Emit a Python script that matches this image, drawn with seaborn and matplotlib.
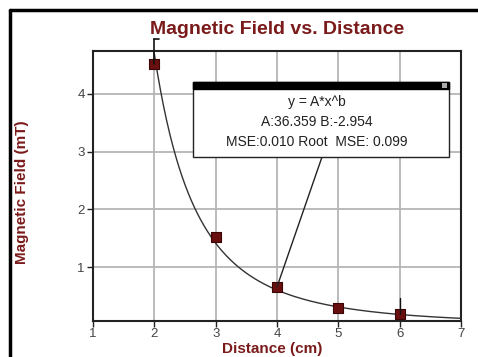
import numpy as np
import pandas as pd
import matplotlib
matplotlib.use("Agg")
import matplotlib.pyplot as plt
import seaborn as sns
from matplotlib.patches import Rectangle
from matplotlib.lines import Line2D

# measured points
distance_cm = [2, 3, 4, 5, 6]
field_mT = [4.52, 1.52, 0.66, 0.30, 0.19]

# power-law fit parameters shown in the box
fit_A = 36.359
fit_B = -2.954
fit_text = ["y = A*x^b", "A:36.359 B:-2.954", "MSE:0.010 Root  MSE: 0.099"]

x_ticks = [1, 2, 3, 4, 5, 6, 7]
y_ticks = [1, 2, 3, 4]

dark_red = "#7a1a1a"
W, H = 478, 357

sns.set_style("ticks")
plt.rcParams['font.family'] = ['Liberation Sans', 'DejaVu Sans']

fig = plt.figure(figsize=(W / 100, H / 100), dpi=100)
fig.patch.set_facecolor("white")
ax = fig.add_axes([93 / W, 1 - 321 / H, (461 - 93) / W, (321 - 51) / H])

df = pd.DataFrame({"Distance": distance_cm, "Field": field_mT})

# fitted curve
xs = np.linspace(2, 7, 200)
fit_df = pd.DataFrame({"Distance": xs, "Field": fit_A * xs ** fit_B})
sns.lineplot(data=fit_df, x="Distance", y="Field", ax=ax, color="#333333", lw=1.0, zorder=3)

sns.scatterplot(data=df, x="Distance", y="Field", ax=ax, marker="s", s=60,
                color="#6a0f0f", edgecolor="#3a0505", linewidth=0.8, zorder=4)

ax.set_xlim(1, 7)
ax.set_ylim(0.07, 4.74)
ax.set_xticks(x_ticks)
ax.set_yticks(y_ticks)
ax.grid(True, color="#b5b5b5", lw=1.3)
ax.set_axisbelow(True)
for sp in ax.spines.values():
    sp.set_color("#222222")
    sp.set_linewidth(1.5)
ax.tick_params(axis="both", labelsize=9.5, colors="#222222", length=4, width=1.0, pad=2)
ax.tick_params(axis="x", pad=1)
for lab in ax.get_xticklabels() + ax.get_yticklabels():
    lab.set_color("#444444")

ax.set_xlabel("Distance (cm)", color=dark_red, fontweight="bold", fontsize=11, labelpad=0)
ax.set_ylabel("Magnetic Field (mT)", color=dark_red, fontweight="bold", fontsize=11, labelpad=0)
ax.yaxis.set_label_coords(22 / W, 1 - 192 / H, transform=fig.transFigure)
ax.xaxis.set_label_coords(272 / W, 1 - 349 / H, transform=fig.transFigure)
ax.xaxis.label.set_va("center")
ax.yaxis.label.set_va("center")
fig.text(277 / W, 1 - 30 / H, "Magnetic Field vs. Distance", color=dark_red,
         fontweight="bold", fontsize=14, ha="center", va="center")

# small markers above points 2 and 6
ax.plot([distance_cm[0], distance_cm[0]], [field_mT[0], 4.95], color="#111111", lw=1.2, clip_on=False, zorder=5)
ax.plot([distance_cm[0], distance_cm[0] + 0.07], [4.95, 4.95], color="#111111", lw=1.2, clip_on=False, zorder=5)
ax.plot([distance_cm[4], distance_cm[4]], [field_mT[4], 0.47], color="#111111", lw=1.0, zorder=5)

# fit box
bx0, by0, bx1, by1 = 193, 82, 449, 157
fig.patches.append(Rectangle((bx0 / W, 1 - by1 / H), (bx1 - bx0) / W, (by1 - by0) / H,
                             transform=fig.transFigure, facecolor="white", edgecolor="#222222",
                             lw=1.0, zorder=6))
fig.patches.append(Rectangle((bx0 / W, 1 - (by0 + 7) / H), (bx1 - bx0) / W, 7 / H,
                             transform=fig.transFigure, facecolor="black", edgecolor="black",
                             lw=1.0, zorder=7))
fig.patches.append(Rectangle(((bx1 - 7) / W, 1 - (by0 + 6) / H), 5 / W, 5 / H,
                             transform=fig.transFigure, facecolor="#aaaaaa", edgecolor="none", zorder=8))
for i, line in enumerate(fit_text):
    fig.text(317 / W, 1 - (102 + i * 20) / H, line, fontsize=10, color="#222222",
             ha="center", va="center", zorder=9)

# connector from box to point 4
ax.annotate("", xy=(distance_cm[2], field_mT[2]), xycoords="data",
            xytext=(322 / W, 1 - by1 / H), textcoords="figure fraction",
            arrowprops=dict(arrowstyle="-", color="#222222", lw=1.0, shrinkA=0, shrinkB=0),
            zorder=5)

# outer frame (top and left edges)
fig.lines.append(Line2D([10 / W, 1], [1 - 10 / H, 1 - 10 / H], transform=fig.transFigure, color="black", lw=2.5))
fig.lines.append(Line2D([10 / W, 10 / W], [0, 1 - 10 / H], transform=fig.transFigure, color="black", lw=2.5))

fig.savefig("out.png", dpi=100)
